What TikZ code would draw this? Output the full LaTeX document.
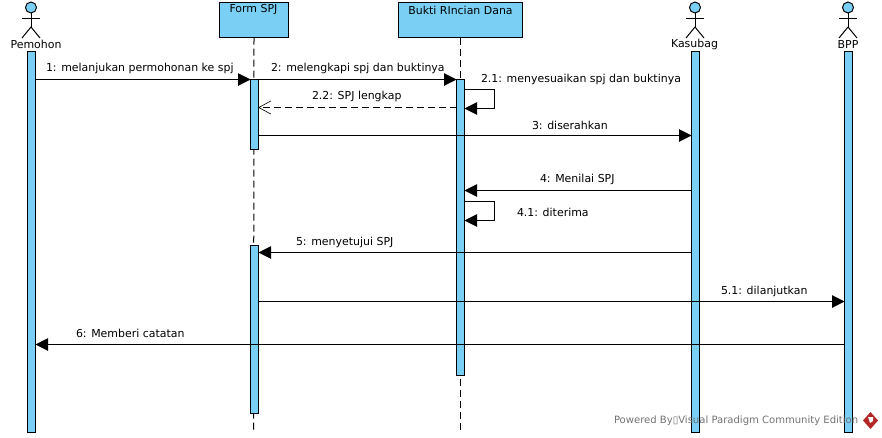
\documentclass[tikz,border=0pt]{standalone}
\usepackage{fontspec}
\setmainfont{DejaVu Sans}
\usetikzlibrary{arrows.meta}
\definecolor{fillblue}{RGB}{122,207,245}
\tikzset{
  every node/.style={font=\fontsize{10.95}{12}\selectfont, text=black, inner sep=0pt, outer sep=0pt},
  objbox/.style={draw=black, fill=fillblue, line width=1.1pt, anchor=north west},
  bar/.style={draw=black, fill=fillblue, line width=1.1pt, minimum width=8pt, anchor=north, rectangle},
  life/.style={draw=black, line width=1pt, dash pattern=on 7pt off 4pt},
  msg/.style={draw=black, line width=1pt, -{Triangle[length=12.5pt,width=12.5pt]}},
  reply/.style={draw=black, line width=1pt, dash pattern=on 7pt off 4pt, -{Straight Barb[length=12pt,width=13pt,line width=0.6pt,round=false]}},
  lbl/.style={anchor=west},
  limb/.style={draw=black, line width=1pt},
  head/.style={circle, draw=black, fill=fillblue, line width=1pt, minimum size=11pt},
}
\begin{document}
\begin{tikzpicture}[x=1pt,y=-1pt]
\useasboundingbox (0,0) rectangle (882,437);
% objects
\node[objbox, minimum width=69pt, minimum height=35pt] (form) at (219.5,2.5) {};
\node[anchor=center] at (253.5,10) {Form SPJ};
\node[objbox, minimum width=124pt, minimum height=35pt] (bukti) at (398.5,2.5) {};
\node[anchor=center] at (460.5,10) {Bukti RIncian Dana};
% lifelines
\coordinate (formend) at (253.5,431);
\coordinate (buktiend) at (460.5,431);
\draw[life] (form.south) -- (formend);
\draw[life] (bukti.south) -- (buktiend);
% actors
\foreach \nm/\x/\lab/\lx in {pem/31/Pemohon/36, kas/695/Kasubag/694.5, bpp/848/BPP/848}{
  \node[head] (\nm head) at (\x,7.5) {};
  \coordinate (\nm hip) at (\x,27);
  \draw[limb] (\nm head.south) -- (\nm hip);
  \draw[limb] (\x-9,18) -- (\x+9,18);
  \draw[limb] (\nm hip) -- (\x-9,38);
  \draw[limb] (\nm hip) -- (\x+9,38);
  \node (\nm lab) at (\lx,44.5) {\lab};
}
% activation bars
\node[bar, minimum height=381pt] (pembar) at (31.5,51.5) {};
\node[bar, minimum height=381pt] (kasbar) at (695.5,51.5) {};
\node[bar, minimum height=381pt] (bppbar) at (848.5,51.5) {};
\node[bar, minimum height=70pt] (forma) at (254.5,79.5) {};
\node[bar, minimum height=168pt] (formb) at (254.5,245.5) {};
\node[bar, minimum height=296pt] (buktibar) at (460.5,79.5) {};
% messages
\draw[msg] (pembar.east |- 0,79.5) -- (forma.west |- 0,79.5);
\draw[msg] (forma.east |- 0,79.5) -- (buktibar.west |- 0,79.5);
\draw[msg] (buktibar.east |- 0,89.5) -- (494.5,89.5) -- (494.5,108.5) -- (buktibar.east |- 0,108.5);
\draw[reply] (buktibar.west |- 0,107.5) -- (forma.east |- 0,107.5);
\draw[msg] (forma.east |- 0,135.5) -- (kasbar.west |- 0,135.5);
\draw[msg] (kasbar.west |- 0,190.5) -- (buktibar.east |- 0,190.5);
\draw[msg] (buktibar.east |- 0,201.5) -- (494.5,201.5) -- (494.5,220.5) -- (buktibar.east |- 0,220.5);
\draw[msg] (kasbar.west |- 0,252.5) -- (formb.east |- 0,252.5);
\draw[msg] (formb.east |- 0,301.5) -- (bppbar.west |- 0,301.5);
\draw[msg] (bppbar.west |- 0,344.5) -- (pembar.east |- 0,344.5);
% labels
\node[lbl] at (46,68) {1: melanjukan permohonan ke spj};
\node[lbl] at (271,68) {2: melengkapi spj dan buktinya};
\node[lbl] at (481,79) {2.1: menyesuaikan spj dan buktinya};
\node[lbl] at (312,96) {2.2: SPJ lengkap};
\node[lbl] at (532,125) {3: diserahkan};
\node[lbl] at (540,179) {4: Menilai SPJ};
\node[lbl] at (517,212) {4.1: diterima};
\node[lbl] at (296,242) {5: menyetujui SPJ};
\node[lbl] at (721,291) {5.1: dilanjutkan};
\node[lbl] at (76,333) {6: Memberi catatan};
% watermark
\node[anchor=west, text=black!55, font=\fontsize{10.05}{12}\selectfont] at (614,421) {Powered By▯Visual Paradigm Community Edition};
\fill[red!65!black!85] (870.5,412) -- (878,420.5) -- (870.5,429) -- (863,420.5) -- cycle;
\fill[white] (868,417) -- (873,417) -- (873,421) -- (870,423) -- cycle;
\end{tikzpicture}
\end{document}
